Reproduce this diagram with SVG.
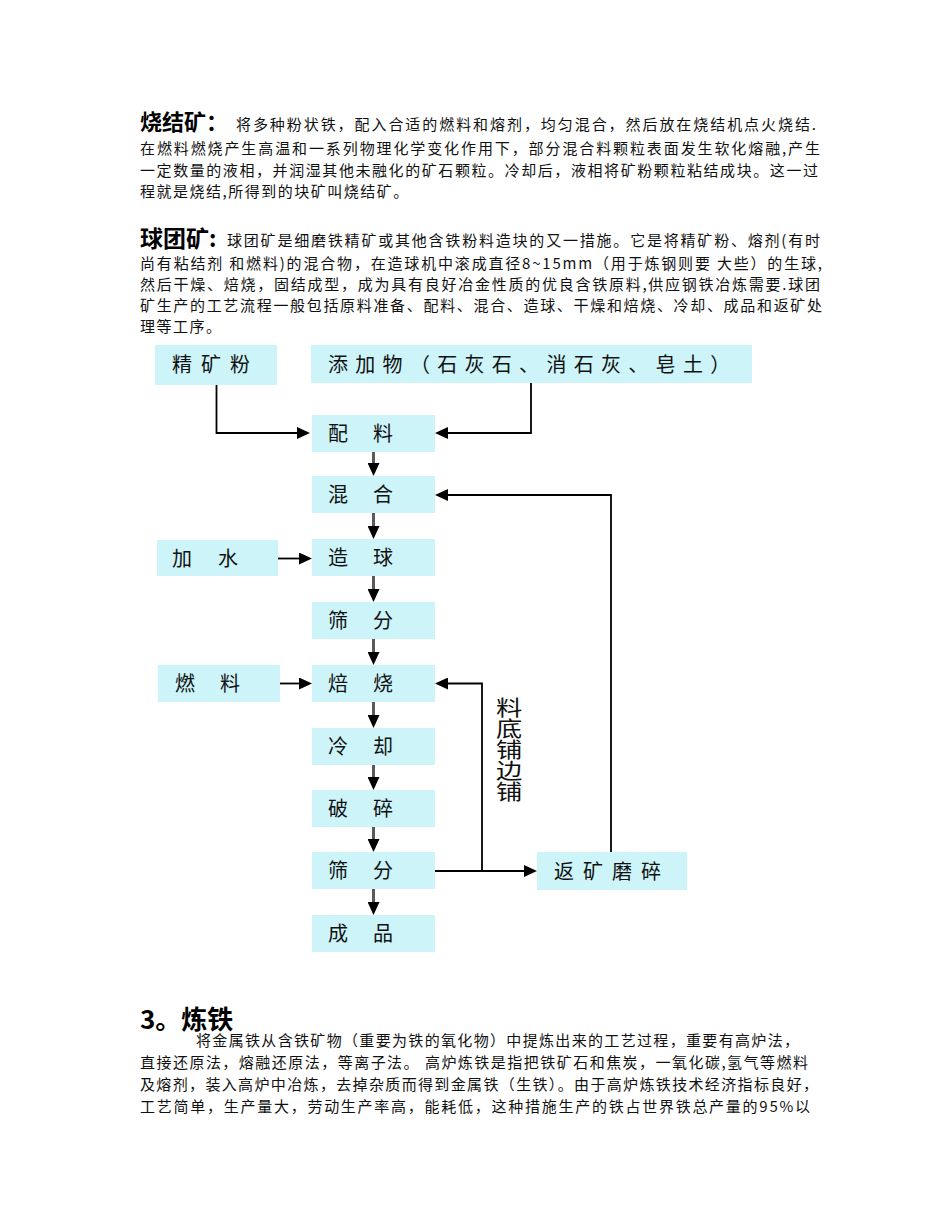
<svg xmlns="http://www.w3.org/2000/svg" width="950" height="1230" viewBox="0 0 950 1230">
<defs>
<style>
.bg{fill:#ffffff}
.box{fill:#cdf4f9}
.bt{font-family:"Noto Sans CJK SC","Noto Sans",sans-serif;font-size:20px;fill:#111}
.p{font-family:"Noto Sans CJK SC","Noto Sans",sans-serif;font-size:15px;fill:#111}
.h{font-family:"Noto Sans CJK SC",sans-serif;font-weight:bold;fill:#000}
.ln{fill:none;stroke:#000;stroke-width:1.8}
.vg{fill:none;stroke:#5a5a5a;stroke-width:3}
.lab{font-family:"Noto Sans CJK SC",sans-serif;font-size:21px;fill:#111}
</style>
<marker id="ah" markerUnits="userSpaceOnUse" markerWidth="14" markerHeight="12" refX="5" refY="6" orient="auto">
<path d="M0,0 L13,6 L0,12 z" fill="#000"/>
</marker>
</defs>
<rect class="bg" x="0" y="0" width="950" height="1230"/>

<g id="para-sinter">
<text class="h" x="140" y="130" font-size="22">烧结矿：</text>
<text class="p" x="236" y="130" textLength="580">将多种粉状铁，配入合适的燃料和熔剂，均匀混合，然后放在烧结机点火烧结.</text>
<text class="p" x="140" y="154" textLength="680">在燃料燃烧产生高温和一系列物理化学变化作用下，部分混合料颗粒表面发生软化熔融,产生</text>
<text class="p" x="140" y="176" textLength="678">一定数量的液相，并润湿其他未融化的矿石颗粒。冷却后，液相将矿粉颗粒粘结成块。这一过</text>
<text class="p" x="140" y="197" letter-spacing="1.5">程就是烧结,所得到的块矿叫烧结矿。</text>
</g>

<g id="para-pellet">
<text class="h" x="140" y="247" font-size="23">球团矿:</text>
<text class="p" x="227" y="246" textLength="593">球团矿是细磨铁精矿或其他含铁粉料造块的又一措施。它是将精矿粉、熔剂(有时</text>
<text class="p" x="140" y="269" textLength="682">尚有粘结剂 和燃料)的混合物，在造球机中滚成直径8~15mm（用于炼钢则要 大些）的生球,</text>
<text class="p" x="140" y="290" textLength="680">然后干燥、焙烧，固结成型，成为具有良好冶金性质的优良含铁原料,供应钢铁冶炼需要.球团</text>
<text class="p" x="140" y="311" textLength="682">矿生产的工艺流程一般包括原料准备、配料、混合、造球、干燥和焙烧、冷却、成品和返矿处</text>
<text class="p" x="140" y="332" letter-spacing="1.5">理等工序。</text>
</g>

<g id="connectors">
<path class="ln" d="M216.5,385 V433 H302" marker-end="url(#ah)"/>
<path class="ln" d="M531,383 V433 H443" marker-end="url(#ah)"/>
<path class="vg" d="M373.5,452 V468" marker-end="url(#ah)"/>
<path class="vg" d="M373.5,513 V531" marker-end="url(#ah)"/>
<path class="vg" d="M373.5,576 V594" marker-end="url(#ah)"/>
<path class="vg" d="M373.5,639 V657" marker-end="url(#ah)"/>
<path class="vg" d="M373.5,702 V720" marker-end="url(#ah)"/>
<path class="vg" d="M373.5,765 V782" marker-end="url(#ah)"/>
<path class="vg" d="M373.5,827 V844" marker-end="url(#ah)"/>
<path class="vg" d="M373.5,889 V907" marker-end="url(#ah)"/>
<path class="ln" d="M278,558.5 H304" marker-end="url(#ah)"/>
<path class="ln" d="M280,683.5 H304" marker-end="url(#ah)"/>
<path class="ln" d="M611,852 V495 H443" marker-end="url(#ah)"/>
<path class="ln" d="M435,871 H529" marker-end="url(#ah)"/>
<path class="ln" d="M482,871 V683.5 H443" marker-end="url(#ah)"/>
</g>

<g id="node-jingkuangfen">
<rect class="box" x="155" y="345" width="122" height="40"/>
<text class="bt" x="172" y="372" letter-spacing="9">精矿粉</text>
</g>
<g id="node-tianjiawu">
<rect class="box" x="311" y="345" width="441" height="38"/>
<text class="bt" x="328" y="372" letter-spacing="7.3">添加物（石灰石、消石灰、皂土）</text>
</g>
<g id="node-peiliao">
<rect class="box" x="312" y="415" width="123" height="37"/>
<text class="bt" x="328" y="441" letter-spacing="25">配料</text>
</g>
<g id="node-hunhe">
<rect class="box" x="312" y="476" width="123" height="37"/>
<text class="bt" x="328" y="502" letter-spacing="25">混合</text>
</g>
<g id="node-jiashui">
<rect class="box" x="157" y="540" width="121" height="36"/>
<text class="bt" x="172" y="566" letter-spacing="26">加水</text>
</g>
<g id="node-zaoqiu">
<rect class="box" x="312" y="539" width="123" height="37"/>
<text class="bt" x="328" y="565" letter-spacing="25">造球</text>
</g>
<g id="node-shaifen1">
<rect class="box" x="312" y="602" width="123" height="37"/>
<text class="bt" x="328" y="628" letter-spacing="25">筛分</text>
</g>
<g id="node-ranliao">
<rect class="box" x="158" y="665" width="122" height="37"/>
<text class="bt" x="175" y="691" letter-spacing="25">燃料</text>
</g>
<g id="node-beishao">
<rect class="box" x="312" y="665" width="123" height="37"/>
<text class="bt" x="328" y="691" letter-spacing="25">焙烧</text>
</g>
<g id="node-lengque">
<rect class="box" x="312" y="728" width="123" height="37"/>
<text class="bt" x="328" y="754" letter-spacing="25">冷却</text>
</g>
<g id="node-posui">
<rect class="box" x="312" y="790" width="123" height="37"/>
<text class="bt" x="328" y="816" letter-spacing="25">破碎</text>
</g>
<g id="node-shaifen2">
<rect class="box" x="312" y="852" width="123" height="37"/>
<text class="bt" x="328" y="878" letter-spacing="25">筛分</text>
</g>
<g id="node-chengpin">
<rect class="box" x="312" y="915" width="123" height="37"/>
<text class="bt" x="328" y="941" letter-spacing="25">成品</text>
</g>
<g id="node-fankuang">
<rect class="box" x="537" y="852" width="150" height="38"/>
<text class="bt" x="554" y="879" letter-spacing="9">返矿磨碎</text>
</g>
<g id="label-liaodi">
<g transform="translate(509,0) scale(1.25,1)">
<text class="lab" x="0" y="697" writing-mode="vertical-rl">料底铺边铺</text>
</g>
</g>

<g id="para-iron">
<text class="h" x="140" y="1029" font-size="26">3。炼铁</text>
<text class="p" x="196" y="1046" textLength="603">将金属铁从含铁矿物（重要为铁的氧化物）中提炼出来的工艺过程，重要有高炉法，</text>
<text class="p" x="140" y="1068" textLength="668">直接还原法，熔融还原法，等离子法。 高炉炼铁是指把铁矿石和焦炭，一氧化碳,氢气等燃料</text>
<text class="p" x="140" y="1090" textLength="678">及熔剂，装入高炉中冶炼，去掉杂质而得到金属铁（生铁）。由于高炉炼铁技术经济指标良好，</text>
<text class="p" x="140" y="1112" textLength="670">工艺简单，生产量大，劳动生产率高，能耗低，这种措施生产的铁占世界铁总产量的95%以</text>
</g>
</svg>
